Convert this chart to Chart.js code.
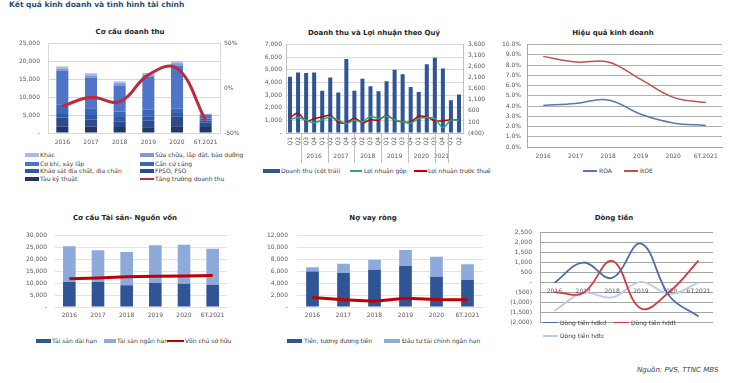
<!DOCTYPE html>
<html><head><meta charset="utf-8">
<script src="https://cdn.jsdelivr.net/npm/chart.js@4.4.0/dist/chart.umd.min.js"></script>
<style>
body{margin:0;background:#fff;width:748px;height:383px;overflow:hidden;position:relative;font-family:"DejaVu Sans",sans-serif;}
.abs{position:absolute;white-space:nowrap;line-height:1;}
canvas{position:absolute;}
.t{font-weight:bold;font-size:7px;color:#262626;transform:translate(-50%,-50%);}
.lg{font-size:6px;color:#404040;transform:translateY(-50%);}
.sw{position:absolute;}
</style></head><body>
<script>
// ---------- DATA ----------
const years = ['2016','2017','2018','2019','2020','6T.2021'];

// Chart 1: Cơ cấu doanh thu
const revSeriesNames = ['Tàu kỹ thuật','FPSO, FSO','Khảo sát địa chất, địa chấn','Cần cứ cảng','Cơ khí, xây lắp','Sửa chữa, lắp đặt, bảo dưỡng','Khác'];
const revTauKyThuat = [1800,1800,1700,1600,1900,1700];
const revFPSO       = [2500,2000,1600,1800,2800,1200];
const revKhaoSat    = [1000,1200,1200,1300,900,500];
const revCanCuCang  = [2600,1900,1500,1800,1200,600];
const revCoKhi      = [9500,8600,7300,9200,12000,1200];
const revSuaChua    = [600,600,600,600,700,100];
const revKhac       = [600,600,500,500,500,100];
const revGrowthName = 'Tăng trưởng doanh thu';
const revGrowth     = [-20,-10,-15,15,22.5,-36];

// Chart 2: Doanh thu và Lợi nhuận theo Quý
const quarterLabels = ['Q1','Q2','Q3','Q4','Q1','Q2','Q3','Q4','Q1','Q2','Q3','Q4','Q1','Q2','Q3','Q4','Q1','Q2','Q3','Q4','Q1','Q2'];
const quarterYears = ['2016','2017','2018','2019','2020','2021'];
const quartersPerYear = [4,4,4,4,4,2];
const qRevenueName = 'Doanh thu (cột trái)';
const qRevenue = [4450,4800,4750,4800, 3350,4400,3200,5850, 3350,4300,3700,3300, 4100,5000,4650,3650, 3250,5450,5950,5100, 2600,3050];
const qGrossName = 'Lợi nhuận gộp';
const qGross   = [200,300,180,60, 200,320,180,30, 180,100,360,250, 360,200,100,50, 250,300,250,-150, 180,180];
const qPBTName = 'Lợi nhuận trước thuế';
const qPBT     = [300,500,130,250, 330,400,100,60, 280,60,200,180, 400,180,100,100, 360,330,150,150, 200,200];
const qRightTicks = [-400,100,600,1100,1600,2100,2600,3100,3600];

// Chart 3: Hiệu quả kinh doanh
const roaName = 'ROA', roeName = 'ROE';
const roa = [4.05,4.25,4.6,3.2,2.35,2.1];
const roe = [8.85,8.3,8.3,6.6,4.85,4.35];

// Chart 4: Cơ cấu Tài sản- Nguồn vốn
const assetLongName = 'Tài sản dài hạn', assetShortName = 'Tài sản ngắn hạn', equityName = 'Vốn chủ sở hữu';
const assetLong  = [10500,10500,9100,10100,9800,9400];
const assetShort = [15000,13300,14000,15800,16400,15100];
const equity     = [11900,12200,12700,12900,13000,13200];

// Chart 5: Nợ vay ròng
const cashName = 'Tiền, tương đương tiền', stInvName = 'Đầu tư tài chính ngắn hạn', netDebtName = 'Nợ vay ròng';
const cash    = [5950,5700,6250,6900,5100,4550];
const stInv   = [750,1550,1700,2700,3350,2650];
const netDebt = [1600,1200,950,1450,1250,1200];

// Chart 6: Dòng tiền
const cfoName = 'Dòng tiền hđkd', cfiName = 'Dòng tiền hđđt', cffName = 'Dòng tiền hđtc';
const cfo = [-20,1000,230,1950,-700,-1700];
const cfi = [-480,-520,1080,-1300,-450,1100];
const cff = [-1420,-520,-750,30,-580,0];

// ---------- SETUP ----------
Chart.defaults.font.family = '"DejaVu Sans", sans-serif';
Chart.defaults.font.size = 6;
Chart.defaults.color = '#595959';
Chart.defaults.animation = false;
Chart.defaults.responsive = false;
Chart.defaults.devicePixelRatio = 1;
Chart.defaults.plugins.legend.display = false;
Chart.defaults.plugins.tooltip.enabled = false;

function numFmt(v){ if (v === 0) return '-'; const s = Math.abs(v).toLocaleString('en-US'); return v < 0 ? '(' + s + ')' : s; }
function mk(left, top, w, h){ const c = document.createElement('canvas'); c.width = w; c.height = h; c.style.left = left + 'px'; c.style.top = top + 'px'; c.style.width = w + 'px'; c.style.height = h + 'px'; document.body.appendChild(c); return c.getContext('2d'); }
function txt(cls, x, y, s, extra){ const d = document.createElement('div'); d.className = 'abs ' + cls; d.style.left = x + 'px'; d.style.top = y + 'px'; d.textContent = s; if (extra) Object.assign(d.style, extra); document.body.appendChild(d); return d; }
function leg(swX, swW, swH, tx, cy, color, label){
  const s = document.createElement('div'); s.className = 'sw'; s.style.left = swX + 'px'; s.style.top = (cy - swH/2) + 'px'; s.style.width = swW + 'px'; s.style.height = swH + 'px'; s.style.background = color; document.body.appendChild(s);
  txt('lg', tx, cy, label);
}
const W = w => s => { s.width = w; };
const H = h => s => { s.height = h; };
const NOPAD = {top:0,left:0,right:0,bottom:0};
const XT = { maxRotation:0, minRotation:0, autoSkip:false };

// ---------- TITLES ----------
txt('', 9, 1, 'Kết quả kinh doanh và tình hình tài chính', {fontWeight:'bold', fontSize:'7.5px', color:'#1f4e79'});
txt('t', 130, 32, 'Cơ cấu doanh thu');
txt('t', 374, 32.5, 'Doanh thu và Lợi nhuận theo Quý');
txt('t', 613, 32.5, 'Hiệu quả kinh doanh');
txt('t', 125, 218, 'Cơ cấu Tài sản- Nguồn vốn');
txt('t', 373, 218, 'Nợ vay ròng');
txt('t', 614, 217.5, 'Dòng tiền');
txt('', 637, 367, 'Nguồn: PVS, TTNC MBS', {fontStyle:'italic', fontSize:'7px', color:'#404040'});

// ---------- CHART 1 ----------
const c1Colors = ['#1f3864','#2b4b8c','#2f5ba6','#3a67b8','#4f75c8','#7e97d6','#aab8e3'];
const c1Data = [revTauKyThuat, revFPSO, revKhaoSat, revCanCuCang, revCoKhi, revSuaChua, revKhac];
new Chart(mk(0, 32, 250, 116), {
  type: 'bar',
  data: { labels: years, datasets: [
    { type:'line', label: revGrowthName, data: revGrowth, yAxisID:'y2', borderColor:'#c0283c', borderWidth:3, pointRadius:0, tension:0.4, order:0 }
  ].concat(c1Data.map((d,i) => ({ label: revSeriesNames[i], data: d, backgroundColor: c1Colors[i], stack:'s', barPercentage:0.42, categoryPercentage:1, order:1 }))) },
  options: { layout:{padding:NOPAD},
    scales: {
      x: { stacked:true, grid:{display:false, drawTicks:false}, border:{display:false}, ticks:Object.assign({padding:6}, XT), afterFit:H(15) },
      y: { stacked:true, min:0, max:25000, ticks:{stepSize:5000, padding:8, callback:numFmt}, grid:{color:'#d9d9d9', drawTicks:false}, border:{display:true, color:'#d9d9d9'}, afterFit:W(48) },
      y2:{ position:'right', min:-50, max:50, ticks:{stepSize:50, padding:4, callback:v => v + '%'}, grid:{display:false, drawTicks:false}, border:{display:true, color:'#d9d9d9'}, afterFit:W(30) }
    } }
});
leg(25,14,4,40,155,c1Colors[6],revSeriesNames[6]);
leg(140,14,4,155,155,c1Colors[5],revSeriesNames[5]);
leg(25,14,4,40,163.5,c1Colors[4],revSeriesNames[4]);
leg(140,14,4,155,163.5,c1Colors[3],revSeriesNames[3]);
leg(25,14,4,40,171,c1Colors[2],revSeriesNames[2]);
leg(140,14,4,155,171,c1Colors[1],revSeriesNames[1]);
leg(25,14,4,40,179,c1Colors[0],revSeriesNames[0]);
leg(140,14,2,155,179,'#c0283c',revGrowthName);

// ---------- CHART 2 ----------
const yearBounds = [-0.5]; const yearCenters = [];
quartersPerYear.reduce((acc, n) => { yearCenters.push(acc + n/2 - 0.5); yearBounds.push(acc + n - 0.5); return acc + n; }, 0);
const yearSep = { id:'yearSep', afterDraw(chart){
  const xs = chart.scales.xYear, ca = chart.chartArea, ctx = chart.ctx;
  ctx.save(); ctx.strokeStyle = '#bfbfbf'; ctx.lineWidth = 1;
  yearBounds.forEach(v => { const px = Math.round(xs.getPixelForValue(v)) + 0.5; ctx.beginPath(); ctx.moveTo(px, ca.bottom); ctx.lineTo(px, xs.bottom); ctx.stroke(); });
  ctx.restore(); } };
new Chart(mk(250, 36, 250, 127), {
  type:'bar',
  data:{ labels: quarterLabels, datasets:[
    { type:'line', label:qGrossName, data:qGross, yAxisID:'y2', borderColor:'#2aa876', borderWidth:1.5, pointRadius:0, tension:0.3, order:0 },
    { type:'line', label:qPBTName, data:qPBT, yAxisID:'y2', borderColor:'#c00000', borderWidth:1.5, pointRadius:0, tension:0.3, order:0 },
    { label:qRevenueName, data:qRevenue, yAxisID:'y', backgroundColor:'#2f5597', barPercentage:0.5, categoryPercentage:1, order:1 }
  ]},
  options:{ layout:{padding:NOPAD},
    scales:{
      x:{ weight:0, grid:{display:false, drawTicks:false}, border:{display:true, color:'#bfbfbf'}, ticks:{minRotation:90, maxRotation:90, padding:4, autoSkip:false}, afterFit:H(16) },
      xYear:{ type:'linear', position:'bottom', weight:1, min:-0.5, max:21.5, grid:{display:false, drawTicks:false}, border:{display:false},
        afterBuildTicks: a => { a.ticks = yearCenters.map(v => ({value:v})); },
        ticks:{ padding:4, autoSkip:false, maxRotation:0, callback: v => quarterYears[yearCenters.indexOf(v)] }, afterFit:H(14) },
      y:{ min:0, max:7000, ticks:{stepSize:1000, padding:4, callback:numFmt}, grid:{color:'#d9d9d9', drawTicks:false}, border:{color:'#bfbfbf'}, afterFit:W(36) },
      y2:{ position:'right', min:-400, max:3600, afterBuildTicks: a => { a.ticks = qRightTicks.map(v => ({value:v})); }, ticks:{padding:5, callback:numFmt}, grid:{display:false, drawTicks:false}, border:{color:'#bfbfbf'}, afterFit:W(37) }
    } },
  plugins:[yearSep]
});
leg(263,17,4,281,171,'#2f5597',qRevenueName);
leg(350,12,1.5,364,171,'#2aa876',qGrossName);
leg(414,13,1.5,428,171,'#c00000',qPBTName);

// ---------- CHART 3 ----------
new Chart(mk(500, 35, 248, 126), {
  type:'line',
  data:{ labels: years, datasets:[
    { label:roaName, data:roa, borderColor:'#5679b3', borderWidth:1.5, pointRadius:0, tension:0.4 },
    { label:roeName, data:roe, borderColor:'#c0504d', borderWidth:1.5, pointRadius:0, tension:0.4 }
  ]},
  options:{ layout:{padding:{top:0,left:0,right:26,bottom:0}},
    scales:{
      x:{ offset:true, grid:{display:false, drawTicks:false}, border:{color:'#a6a6a6'}, ticks:Object.assign({padding:6}, XT), afterFit:H(14) },
      y:{ min:0, max:10, ticks:{stepSize:1, padding:6, autoSkip:false, callback:v => v.toFixed(1) + '%'}, grid:{color:'#b0b0b0', drawTicks:false}, border:{color:'#a6a6a6'}, afterFit:W(27) }
    } }
});
leg(583,14,1.5,599,171,'#5679b3',roaName);
leg(624,14,1.5,640,171,'#c0504d',roeName);

// ---------- CHART 4 ----------
new Chart(mk(0, 224, 250, 98), {
  type:'bar',
  data:{ labels: years, datasets:[
    { type:'line', label:equityName, data:equity, borderColor:'#c00000', borderWidth:3, pointRadius:0, tension:0, order:0 },
    { label:assetLongName, data:assetLong, backgroundColor:'#2f5597', stack:'s', barPercentage:0.44, categoryPercentage:1, order:1 },
    { label:assetShortName, data:assetShort, backgroundColor:'#8eaadb', stack:'s', barPercentage:0.44, categoryPercentage:1, order:1 }
  ]},
  options:{ layout:{padding:{top:0,left:0,right:23,bottom:0}},
    scales:{
      x:{ stacked:true, grid:{display:false, drawTicks:false}, border:{display:false}, ticks:Object.assign({padding:5}, XT), afterFit:H(15) },
      y:{ stacked:true, min:0, max:30000, ticks:{stepSize:5000, padding:8, callback:numFmt}, grid:{color:'#e3e3e3', drawTicks:false}, border:{display:false}, afterFit:W(55) }
    } }
});
leg(36,15,4,52,341,'#2f5597',assetLongName);
leg(104,12,4,117,341,'#8eaadb',assetShortName);
leg(167,17,2,185,341,'#c00000',equityName);

// ---------- CHART 5 ----------
new Chart(mk(250, 223, 250, 99), {
  type:'bar',
  data:{ labels: years, datasets:[
    { type:'line', label:netDebtName, data:netDebt, borderColor:'#c00000', borderWidth:3, pointRadius:0, tension:0, order:0 },
    { label:cashName, data:cash, backgroundColor:'#2f5597', stack:'s', barPercentage:0.41, categoryPercentage:1, order:1 },
    { label:stInvName, data:stInv, backgroundColor:'#8eaadb', stack:'s', barPercentage:0.41, categoryPercentage:1, order:1 }
  ]},
  options:{ layout:{padding:{top:0,left:0,right:17,bottom:0}},
    scales:{
      x:{ stacked:true, grid:{display:false, drawTicks:false}, border:{display:false}, ticks:Object.assign({padding:5}, XT), afterFit:H(15) },
      y:{ stacked:true, min:0, max:12000, ticks:{stepSize:2000, padding:9, callback:numFmt}, grid:{color:'#e3e3e3', drawTicks:false}, border:{display:false}, afterFit:W(47) }
    } }
});
leg(287,15,4,304,341,'#2f5597',cashName);
leg(384,16,4,402,341,'#8eaadb',stInvName);

// ---------- CHART 6 ----------
new Chart(mk(500, 221, 248, 113), {
  type:'line',
  data:{ labels: years, datasets:[
    { label:cfoName, data:cfo, borderColor:'#4a6ea9', borderWidth:1.8, pointRadius:0, tension:0.4 },
    { label:cfiName, data:cfi, borderColor:'#d9383a', borderWidth:1.8, pointRadius:0, tension:0.4 },
    { label:cffName, data:cff, borderColor:'#b9cbe8', borderWidth:1.8, pointRadius:0, tension:0.4 }
  ]},
  options:{ layout:{padding:{top:0,left:0,right:35,bottom:0}},
    scales:{
      x:{ position:{y:0}, offset:true, grid:{display:false, drawTicks:false}, border:{display:false}, ticks:Object.assign({padding:5}, XT), afterFit:H(0) },
      y:{ min:-2000, max:2500, ticks:{stepSize:500, padding:8, autoSkip:false, callback:numFmt}, grid:{color:'#a6a6a6', drawTicks:false}, border:{color:'#a6a6a6'}, afterFit:W(40) }
    } }
});
leg(543,15,1.8,560,322.5,'#4a6ea9',cfoName);
leg(613,16,1.8,631,322.5,'#d9383a',cfiName);
leg(543,15,1.8,560,336,'#b9cbe8',cffName);
</script>
</body></html>
